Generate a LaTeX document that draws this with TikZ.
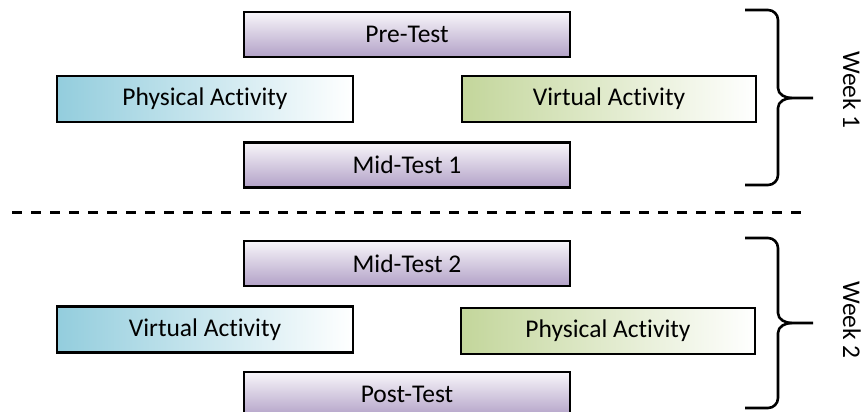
\documentclass[tikz,border=0pt]{standalone}
\usepackage{fontspec}
\setmainfont{Carlito}[Ligatures={NoCommon}]
\definecolor{lilac}{RGB}{178,161,199}
\definecolor{lilactop}{RGB}{248,246,250}
\definecolor{bluebox}{RGB}{147,205,221}
\definecolor{greenbox}{RGB}{195,214,155}
\begin{document}
\begin{tikzpicture}[x=1pt,y=-1pt,
  box/.style={draw=black,line width=2.6pt,inner sep=0pt,font=\fontsize{25.5}{30}\selectfont},
  testbox/.style={box,minimum width=326pt,minimum height=45pt,top color=lilactop,bottom color=lilac},
  bluebx/.style={box,minimum width=296pt,minimum height=46pt,left color=bluebox,right color=white},
  greenbx/.style={box,minimum width=294pt,minimum height=46pt,left color=greenbox,right color=white},
  brace/.style={draw=black,line width=2.6pt,line join=round},
  weeklbl/.style={rotate=-90,font=\fontsize{25.5}{30}\selectfont}]
\useasboundingbox (0,0) rectangle (863,412);
% Week 1
\node[testbox] (pre) at (407,34.5) {Pre-Test};
\node[bluebx] (pa1) at (205,99) {Physical Activity};
\node[greenbx] (va1) at (609,99) {Virtual Activity};
\node[testbox] (mid1) at (407,165) {Mid-Test 1};
% separator
\coordinate (dl) at (12,212);
\coordinate (dr) at (804,212);
\draw[line width=3pt,dash pattern=on 10pt off 9pt] (dl) -- (dr);
% Week 2
\node[testbox] (mid2) at (407,263.5) {Mid-Test 2};
\node[bluebx] (va2) at (205,329.5) {Virtual Activity};
\node[greenbx] (pa2) at (608,331) {Physical Activity};
\node[testbox] (post) at (407,394.5) {Post-Test};
% braces
\coordinate (b1t) at (745,10);
\coordinate (b1tip) at (813,98);
\coordinate (b1b) at (745,185);
\draw[brace] (b1t) -- (768,10) to[out=0,in=90] (778,20) -- (778,88)
  to[out=-90,in=180] (792,98) -- (b1tip);
\draw[brace] (792,98) to[out=180,in=90] (778,108) -- (778,175)
  to[out=-90,in=0] (768,185) -- (b1b);
\node[weeklbl] (w1) at (852,90) {Week 1};
\coordinate (b2t) at (745,238);
\coordinate (b2tip) at (813,323);
\coordinate (b2b) at (745,408);
\draw[brace] (b2t) -- (768,238) to[out=0,in=90] (778,248) -- (778,313)
  to[out=-90,in=180] (792,323) -- (b2tip);
\draw[brace] (792,323) to[out=180,in=90] (778,333) -- (778,398)
  to[out=-90,in=0] (768,408) -- (b2b);
\node[weeklbl] (w2) at (852,320) {Week 2};
\end{tikzpicture}
\end{document}
